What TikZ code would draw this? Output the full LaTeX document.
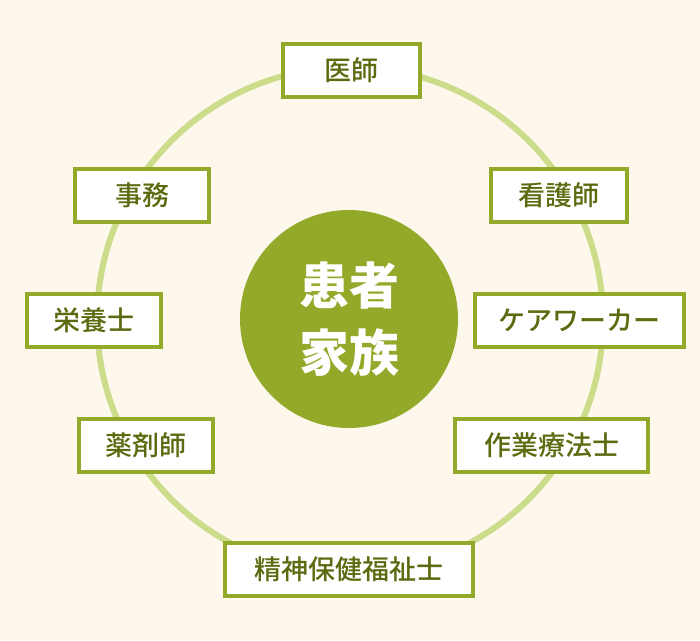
\documentclass[tikz,border=0pt]{standalone}
\usepackage{fontspec}
\newfontfamily\jp{Noto Sans CJK JP}
\newfontfamily\jpm{Noto Sans CJK JP Medium}
\definecolor{bg}{HTML}{FDF7EC}
\definecolor{ring}{HTML}{CBDC8B}
\definecolor{olive}{HTML}{93A92A}
\definecolor{txt}{HTML}{5B6B10}
\begin{document}
\begin{tikzpicture}[x=1pt,y=-1pt,
  role/.style={draw=olive,line width=4pt,fill=white,minimum height=53pt,inner sep=0pt,
    font=\jpm\fontsize{27}{30}\selectfont,text=txt},
  core/.style={circle,fill=olive,minimum size=218pt,inner sep=0pt,align=center,
    font=\jp\bfseries\fontsize{50}{67}\selectfont,text=white}]
\fill[bg] (0,0) rectangle (700,640);
\useasboundingbox (0,0) rectangle (700,640);
\node[circle,draw=ring,line width=6pt,minimum size=506pt,inner sep=0pt] (ringc) at (350,320) {};
\node[core] (center) at (349,319) {患者\\家族};
\node[role,minimum width=137pt] (ishi) at (351,70) {医師};
\node[role,minimum width=134pt] (jimu) at (142,195.5) {事務};
\node[role,minimum width=136pt] (kango) at (559,195.5) {看護師};
\node[role,minimum width=134pt] (eiyo) at (94,320.5) {栄養士};
\node[role,minimum width=209pt] (care) at (579.5,320.5) {ケアワーカー};
\node[role,minimum width=134pt] (yaku) at (146,445.5) {薬剤師};
\node[role,minimum width=193pt] (sagyo) at (551.5,445.5) {作業療法士};
\node[role,minimum width=248pt] (seishin) at (349,569.5) {精神保健福祉士};
\end{tikzpicture}
\end{document}
